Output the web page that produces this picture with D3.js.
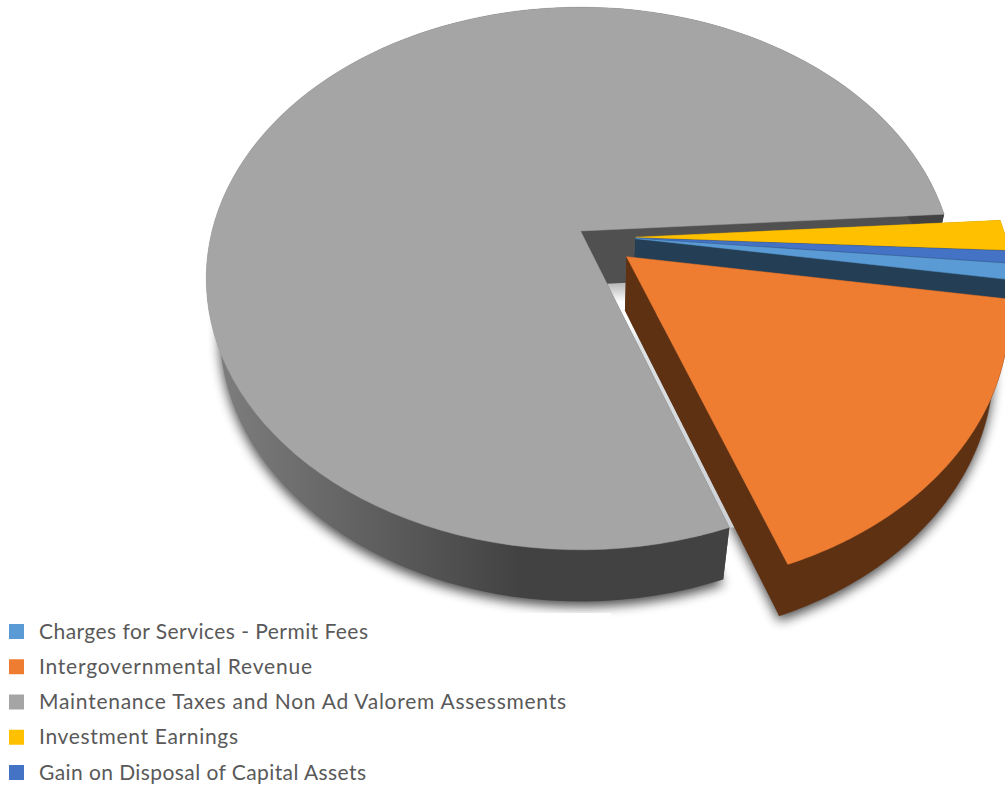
<!DOCTYPE html>
<html>
<head>
<meta charset="utf-8">
<script src="https://cdn.jsdelivr.net/npm/d3@7"></script>
<style>
  html, body { margin: 0; padding: 0; background: #fff; }
  svg { display: block; }
</style>
</head>
<body>
<svg id="chart" width="1005" height="785"></svg>
<script>
// Revenue shares, in per cent, clockwise from the first slice
const categories = [
  "Charges for Services - Permit Fees",
  "Intergovernmental Revenue",
  "Maintenance Taxes and Non Ad Valorem Assessments",
  "Investment Earnings",
  "Gain on Disposal of Capital Assets"
];
const shares = [0.95, 17.1, 79.45, 1.8, 0.7];
const topColors = ["#5b9bd5", "#ef7d31", "#a5a5a5", "#ffc000", "#4472c4"];
const wallColors = ["#233e55", "#5f3113", "#505050", "#7a5c00", "#1f3560"];

// How far each slice is pulled out of the pie, and in which direction
const explodeFractions = [0.151, 0.156, 0, 0.151, 0.151];
const explodeBearings = [11, 38, 0, 9, 10];

// Set width of each legend label
const labelWidths = [329, 273, 527, 199, 327];

const width = 1005, height = 785;
const firstSliceAngle = 95.3 * Math.PI / 180;
const paintOrder = [2, 3, 4, 0, 1];

// Perspective of the tilted disc: k foreshortens depth, m shrinks the lower face
const apex = { x: 580.5, y: 231 };
const k = 0.175, m = 0.036;
const xScale = d3.scaleLinear().domain([0, 1]).range([0, 368.5]);
const yScale = d3.scaleLinear().domain([0, 1]).range([0, 263]);
const dropScale = d3.scaleLinear().domain([0, 1]).range([0, 56]);

function project(u, v, z) {
  const w = 1 - k * v + m * z;
  return [apex.x + xScale(u) / w, apex.y + (yScale(v) + dropScale(z)) / w];
}

const svg = d3.select("#chart");
const defs = svg.append("defs");
defs.append("filter").attr("id", "softShadow")
  .attr("filterUnits", "userSpaceOnUse")
  .attr("x", 0).attr("y", 0).attr("width", width).attr("height", height)
  .append("feGaussianBlur").attr("stdDeviation", 6);

const wallShade = defs.append("linearGradient").attr("id", "wallShade")
  .attr("gradientUnits", "userSpaceOnUse")
  .attr("x1", 206).attr("x2", 520).attr("y1", 0).attr("y2", 0);
wallShade.append("stop").attr("offset", 0).attr("stop-color", "#808080");
wallShade.append("stop").attr("offset", 1).attr("stop-color", "#424242");

// Narrow gap between the large slice and the pulled-out one
const gapShade = defs.append("linearGradient").attr("id", "gapShade")
  .attr("gradientUnits", "userSpaceOnUse")
  .attr("x1", 0).attr("x2", 0).attr("y1", 285).attr("y2", 530);
[[0, "#bdbdbd"], [0.07, "#ffffff"], [0.16, "#ffffff"], [0.24, "#dde1e4"], [1, "#cdd1d5"]]
  .forEach(([o, c]) => gapShade.append("stop").attr("offset", o).attr("stop-color", c));

const pie = d3.pie().sort(null)
  .startAngle(firstSliceAngle)
  .endAngle(firstSliceAngle + 2 * Math.PI);
const arcs = pie(shares);

const line = d3.line();

function sliceGeometry(i) {
  const arc = arcs[i];
  const bearing = explodeBearings[i] * Math.PI / 180;
  const ox = explodeFractions[i] * Math.cos(bearing);
  const oy = explodeFractions[i] * Math.sin(bearing);
  const rimAngles = d3.range(0, 121).map(t =>
    arc.startAngle + (arc.endAngle - arc.startAngle) * t / 120);
  const rim = z => rimAngles.map(a =>
    project(ox + Math.sin(a), oy - Math.cos(a), z));
  const centre = z => project(ox, oy, z);
  const topRim = rim(0), lowRim = rim(1);
  return {
    top: [centre(0), ...topRim],
    low: [centre(1), ...lowRim],
    outerWall: [...topRim, ...lowRim.slice().reverse()],
    startWall: [centre(0), topRim[0], lowRim[0], centre(1)],
    endWall: [centre(0), topRim[120], lowRim[120], centre(1)]
  };
}

const slices = paintOrder.map(i => ({ i, ...sliceGeometry(i) }));

// Blurred lower faces underneath everything
const shadow = svg.append("g")
  .attr("filter", "url(#softShadow)")
  .attr("transform", "translate(0,5)")
  .attr("opacity", 0.7);
shadow.selectAll("path").data(slices).join("path")
  .attr("d", s => line(s.low) + "Z").attr("fill", "#000");

// White panel behind the legend
svg.append("rect")
  .attr("x", 0).attr("y", 613).attr("width", 611).attr("height", height - 613)
  .attr("fill", "#fff");

// Gap polygon: from the large slice's cut edge across to the pulled-out slice's wall
const grey = slices.find(s => s.i === 2);
const orange = slices.find(s => s.i === 1);
const cutEnd = grey.top[1];
const wallFrom = orange.low[0], wallTo = orange.low[orange.low.length - 1];
const t = (cutEnd[1] - wallFrom[1]) / (wallTo[1] - wallFrom[1]);
svg.append("path")
  .attr("d", line([
    grey.top[0], cutEnd,
    [wallFrom[0] + (wallTo[0] - wallFrom[0]) * t, cutEnd[1]],
    wallFrom, orange.top[0]
  ]) + "Z")
  .attr("fill", "url(#gapShade)");

const slicesLayer = svg.append("g");
slices.forEach(s => {
  const g = slicesLayer.append("g");
  const wall = wallColors[s.i];
  g.selectAll(null).data([s.startWall, s.endWall]).join("path")
    .attr("d", d => line(d) + "Z").attr("fill", wall);
  const paint = s.i === 2 ? "url(#wallShade)" : wall;
  g.append("path").attr("d", line(s.outerWall) + "Z")
    .attr("fill", paint)
    .attr("stroke", s.i === 1 ? wall : "none").attr("stroke-width", 0.6);
  g.append("path").attr("d", line(s.top) + "Z")
    .attr("fill", topColors[s.i])
    .attr("stroke", topColors[s.i]).attr("stroke-width", 0.5);
});

// Legend
const rowScale = d3.scalePoint().domain(categories).range([631.5, 772.5]);
const legend = svg.append("g").selectAll("g").data(categories).join("g")
  .attr("transform", d => `translate(0,${rowScale(d)})`);
legend.append("rect")
  .attr("x", 9).attr("y", -7.5).attr("width", 15).attr("height", 15)
  .attr("fill", (d, i) => topColors[i]);
legend.append("text")
  .attr("x", 39).attr("y", 7)
  .attr("font-family", "Lato, sans-serif")
  .attr("font-size", 21)
  .attr("fill", "#595959")
  .attr("textLength", (d, i) => labelWidths[i])
  .attr("lengthAdjust", "spacing")
  .text(d => d);
</script>
</body>
</html>
